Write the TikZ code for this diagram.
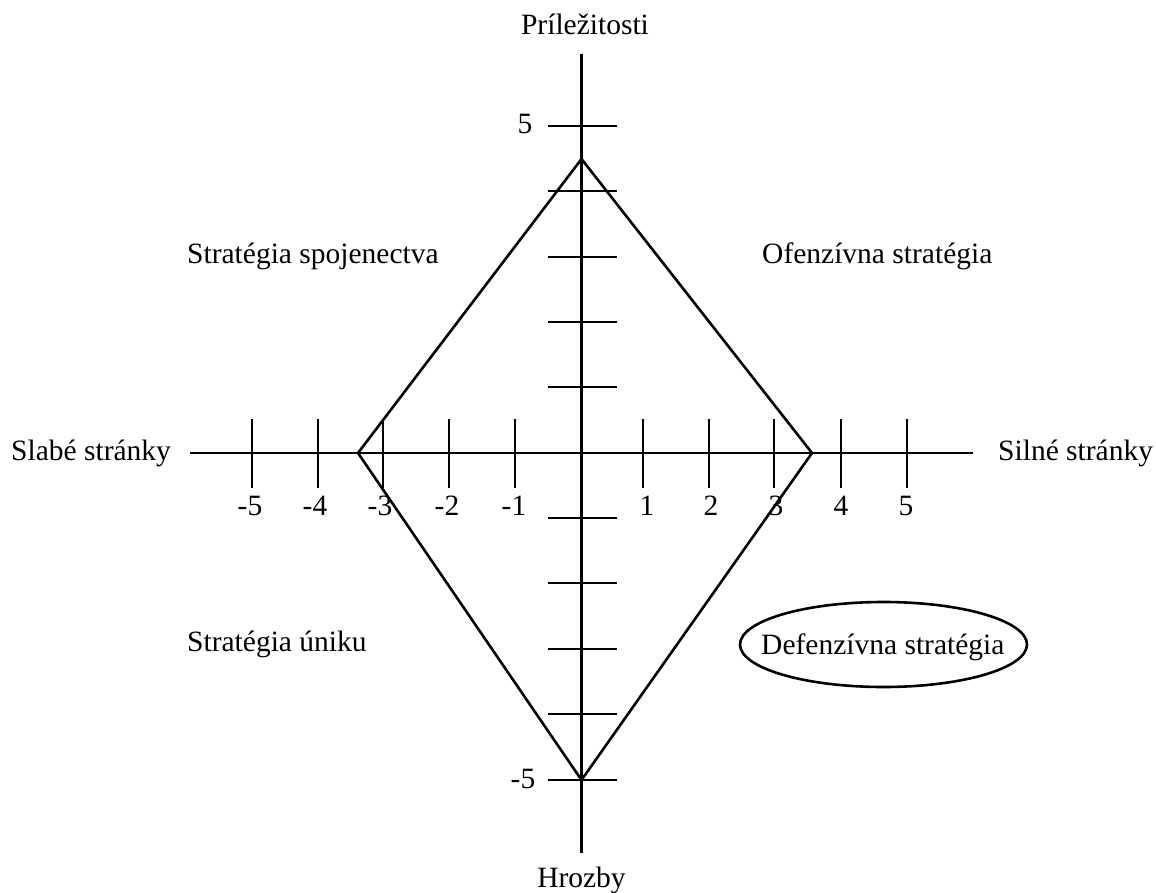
\documentclass[tikz,border=0pt]{standalone}
\usepackage{fontspec}
\setmainfont{Liberation Serif}
\usetikzlibrary{shapes.geometric}
\begin{document}
\begin{tikzpicture}[x=1pt,y=-1pt,
  lbl/.style={font=\fontsize{29.5}{34}\selectfont, inner sep=0pt, anchor=base},
  axisline/.style={line width=2.6pt},
  tickline/.style={line width=2.6pt},
  shape line/.style={line width=2.6pt, line join=miter}]
\useasboundingbox (0,0) rectangle (1156,893);

% axes end points and origin
\coordinate (O) at (581.5,453);
\coordinate (xl) at (190,453);
\coordinate (xr) at (973,453);
\coordinate (yt) at (581.5,54);
\coordinate (yb) at (581.5,853);
\draw[axisline] (xl) -- (xr);
\draw[axisline] (yt) -- (yb);

% ticks on the horizontal axis
\foreach \x in {252,318,383,449,515,643,709,774,841,907}
  \draw[tickline] (\x,419) -- (\x,488);
% ticks on the vertical axis
\foreach \y in {126,191,257,322,387,518,583,649,714,780}
  \draw[tickline] (548,\y) -- (617,\y);

% the strategy diamond
\coordinate (dt) at (581.5,159);
\coordinate (dr) at (812,453);
\coordinate (db) at (581.5,780);
\coordinate (dl) at (358,453);
\draw[shape line] (dt) -- (dr) -- (db) -- (dl) -- cycle;

% axis titles
\node[lbl] (opp) at (585,35) {Príležitosti};
\node[lbl] (thr) at (581.5,887) {Hrozby};
\node[lbl, anchor=base west] (weak) at (11,460) {Slabé stránky};
\node[lbl, anchor=base west] (strong) at (998,460) {Silné stránky};

% scale numbers
\foreach \x/\t/\n in {250/-5/m5,315/-4/m4,380/-3/m3,447/-2/m2,514/-1/m1,647/1/p1,711/2/p2,776/3/p3,841/4/p4,906/5/p5}
  \node[lbl] (n\n) at (\x,515) {\t};
\node[lbl] (ytop) at (525,134) {5};
\node[lbl] (ybot) at (523,788) {-5};

% quadrant strategies
\node[lbl, anchor=base west] (q1) at (187,264) {Stratégia spojenectva};
\node[lbl, anchor=base west] (q2) at (762,264) {Ofenzívna stratégia};
\node[lbl, anchor=base west] (q3) at (187,651) {Stratégia úniku};
\node[lbl, anchor=base west] (q4) at (761,654) {Defenzívna stratégia};
\draw[line width=2.6pt] (883.5,644.5) ellipse [x radius=143.5, y radius=42.5];
\end{tikzpicture}
\end{document}
